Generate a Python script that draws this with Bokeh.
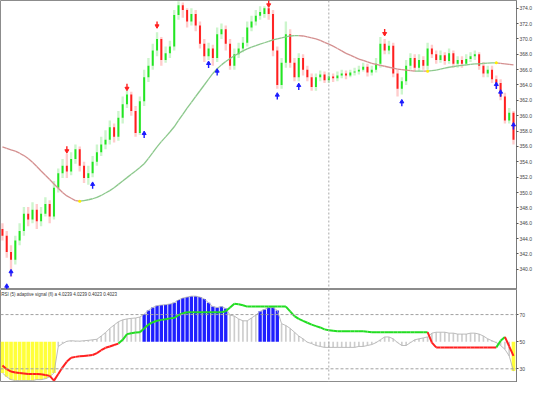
from bokeh.plotting import figure
from bokeh.models import Range1d, FixedTicker, Span, Label, NumeralTickFormatter
from bokeh.layouts import column
from bokeh.embed import file_html
from bokeh.resources import INLINE

# ---------------- data ----------------
opens = [
    345.25, 344.38, 342.25, 341.25, 343.75, 345.0, 347.25, 346.5, 347.75, 346.25,
    347.25, 348.5, 346.88, 350.62, 352.5, 353.5, 352.75, 354.38, 355.62, 353.5,
    351.88, 352.5, 354.0, 355.25, 356.25, 356.88, 358.5, 357.25, 359.75, 361.5,
    362.75, 360.62, 357.75, 361.88, 365.0, 366.5, 368.5, 370.0, 367.25, 368.12,
    369.0, 373.12, 374.38, 373.75, 372.25, 373.25, 371.75, 369.38, 367.75, 368.75,
    367.5, 370.62, 371.25, 369.38, 366.5, 368.0, 368.75, 369.5, 371.5, 372.25,
    373.0, 373.25, 374.0, 373.25, 368.5, 364.0, 366.88, 370.62, 366.88, 365.0,
    367.5, 366.0, 365.0, 363.75, 365.0, 365.38, 364.62, 365.12, 364.88, 365.25,
    365.5, 365.25, 365.62, 365.75, 366.0, 366.38, 365.62, 366.0, 366.75, 369.38,
    368.5, 369.12, 365.5, 363.5, 364.5, 366.5, 367.5, 366.25, 367.25, 366.5,
    368.75, 368.0, 367.25, 367.88, 367.12, 368.12, 366.75, 367.25, 366.75, 367.38,
    367.75, 368.0, 366.5, 365.5, 366.0, 364.75, 364.25, 362.5, 359.38, 360.38,
]
closes = [
    344.38, 342.25, 341.25, 343.75, 345.0, 347.25, 346.5, 347.75, 346.25, 347.25,
    348.5, 346.88, 350.62, 352.5, 353.5, 352.75, 354.38, 355.62, 353.5, 351.88,
    352.5, 354.0, 355.25, 356.25, 356.88, 358.5, 357.25, 359.75, 361.5, 362.75,
    360.62, 357.75, 361.88, 365.0, 366.5, 368.5, 370.0, 367.25, 368.12, 369.0,
    373.12, 374.38, 373.75, 372.25, 373.25, 371.75, 369.38, 367.75, 368.75, 367.5,
    370.62, 371.25, 369.38, 366.5, 368.0, 368.75, 369.5, 371.5, 372.25, 373.0,
    373.5, 374.0, 373.25, 368.5, 364.0, 366.88, 370.62, 366.88, 365.0, 367.5,
    366.0, 365.0, 363.75, 365.0, 365.38, 364.62, 365.12, 364.88, 365.25, 365.5,
    365.25, 365.62, 365.75, 366.0, 366.38, 365.62, 366.0, 366.75, 369.38, 368.5,
    369.12, 365.5, 363.5, 364.5, 366.5, 367.5, 366.25, 367.25, 366.5, 368.75,
    368.0, 367.25, 367.88, 367.12, 368.12, 366.75, 367.25, 366.75, 367.38, 367.75,
    368.0, 366.5, 365.5, 366.0, 364.75, 364.25, 362.5, 359.38, 360.38, 356.88,
]
highs = [
    346.0, 345.0, 343.12, 344.38, 346.0, 348.12, 348.12, 348.75, 348.5, 348.12,
    349.38, 349.0, 351.5, 353.12, 354.38, 355.0, 355.25, 356.25, 356.0, 354.0,
    353.5, 354.75, 356.25, 357.25, 358.12, 359.38, 359.0, 360.62, 362.5, 363.25,
    363.12, 361.25, 362.5, 366.0, 367.5, 369.38, 370.88, 370.25, 369.0, 369.75,
    373.75, 374.9, 374.75, 374.0, 374.0, 373.75, 372.25, 370.0, 369.5, 369.25,
    371.5, 372.0, 371.75, 370.0, 368.75, 369.5, 370.25, 372.25, 373.0, 373.75,
    374.25, 374.25, 374.25, 373.75, 369.0, 367.5, 372.25, 371.25, 367.5, 368.12,
    368.0, 366.5, 365.5, 365.5, 365.88, 365.75, 365.62, 365.5, 365.75, 366.0,
    365.88, 366.0, 366.25, 366.5, 366.88, 366.75, 366.5, 367.5, 370.25, 370.0,
    369.75, 369.5, 366.0, 365.0, 367.25, 368.12, 368.0, 368.0, 367.75, 369.5,
    369.25, 368.5, 368.5, 368.25, 368.75, 368.5, 367.75, 367.75, 368.0, 368.25,
    368.5, 368.25, 367.0, 366.5, 366.5, 365.25, 364.75, 363.0, 361.0, 360.62,
]
lows = [
    343.75, 341.5, 339.0, 340.62, 343.12, 344.38, 345.62, 346.0, 345.25, 345.62,
    346.88, 346.0, 346.5, 350.0, 351.88, 351.88, 352.25, 353.75, 352.75, 351.25,
    351.0, 352.0, 353.5, 354.75, 355.62, 356.25, 356.5, 356.75, 359.0, 361.0,
    360.0, 357.25, 357.5, 361.25, 364.38, 366.0, 367.75, 366.5, 366.88, 367.5,
    368.5, 372.5, 372.75, 371.5, 371.75, 371.0, 368.75, 367.0, 367.25, 366.5,
    367.0, 370.0, 368.5, 366.0, 366.0, 367.5, 368.25, 369.0, 371.0, 371.75,
    372.5, 372.75, 372.5, 367.75, 363.5, 363.5, 366.25, 366.25, 364.5, 364.5,
    365.25, 364.5, 363.25, 363.25, 364.5, 364.25, 364.25, 364.38, 364.5, 364.88,
    364.75, 365.0, 365.25, 365.38, 365.75, 365.12, 365.25, 365.62, 366.25, 368.0,
    368.0, 365.0, 362.5, 362.75, 364.0, 366.0, 365.75, 365.75, 366.0, 366.0,
    367.5, 366.75, 366.88, 366.62, 366.75, 366.25, 366.25, 366.25, 366.5, 367.0,
    367.25, 366.0, 365.0, 365.0, 364.25, 363.5, 362.0, 359.0, 359.0, 356.25,
]
moving_avg = [
    355.94, 355.75, 355.56, 355.38, 355.12, 354.81, 354.44, 353.94, 353.38, 352.81,
    352.25, 351.69, 351.12, 350.56, 350.0, 349.56, 349.25, 348.94, 348.88, 348.94,
    349.06, 349.19, 349.38, 349.62, 349.94, 350.25, 350.62, 351.06, 351.5, 351.94,
    352.38, 352.81, 353.25, 353.75, 354.44, 355.19, 355.94, 356.62, 357.25, 357.88,
    358.56, 359.38, 360.19, 361.0, 361.75, 362.5, 363.25, 364.0, 364.75, 365.5,
    366.12, 366.62, 367.06, 367.44, 367.81, 368.12, 368.44, 368.69, 368.94, 369.12,
    369.31, 369.5, 369.69, 369.88, 370.0, 370.12, 370.25, 370.38, 370.44, 370.44,
    370.38, 370.25, 370.12, 370.0, 369.81, 369.56, 369.31, 369.06, 368.75, 368.44,
    368.12, 367.88, 367.62, 367.38, 367.19, 367.0, 366.81, 366.69, 366.56, 366.44,
    366.31, 366.19, 366.06, 366.0, 365.94, 365.88, 365.81, 365.81, 365.81, 365.80,
    365.88, 365.94, 366.06, 366.19, 366.31, 366.38, 366.5, 366.56, 366.62, 366.69,
    366.75, 366.76, 366.81, 366.85, 366.87, 366.88, 366.81, 366.75, 366.69, 366.62,
]
up_arrow_bars = [1, 2, 21, 33, 48, 50, 64, 69, 93, 115, 116, 119]
up_arrow_prices = [337.62, 339.5, 350.88, 357.5, 366.62, 365.62, 362.5, 363.75,
                   361.62, 363.88, 362.88, 358.62]
down_arrow_bars = [15, 29, 36, 62, 89]
down_arrow_prices = [355.62, 363.75, 371.88, 374.62, 370.88]

histogram = [
    26.9, 24.1, 22.0, 21.3, 21.3, 21.3, 21.3, 21.3, 22.0, 22.0, 22.7, 24.1, 26.9,
    46.5, 48.6, 50.3, 50.7, 50.5, 50.4, 50.7, 51.0, 51.4, 51.8,
    54.2, 56.7, 59.8, 62.3, 64.7, 66.1, 66.8, 67.2, 67.5, 68.2,
    70.3, 73.1, 75.2, 76.6, 77.0, 77.3,
    77.8, 78.7, 80.8, 82.2, 82.9, 83.6, 83.6, 82.9, 81.5, 78.7,
    75.9, 75.2, 75.9, 74.5,
    69.6, 68.9, 66.8, 65.4, 65.4, 67.5, 69.6,
    72.4, 73.8, 75.2, 75.2, 73.1,
    63.3, 61.9, 59.8, 57.0, 54.2, 52.1,
    49.6, 48.6, 47.2, 46.5, 45.8,
    45.8, 45.8, 45.8, 45.8, 45.8, 45.8, 45.8,
    46.5, 46.5, 47.2, 47.9, 49.3,
    51.4, 53.5, 53.5, 52.1, 49.3, 47.2, 47.2, 49.3, 51.4, 52.1, 52.8, 53.5,
    56.3, 57.0, 57.0, 57.0, 56.3, 56.3, 55.6, 55.6, 55.6, 56.3, 56.3, 55.6,
    54.2, 52.1, 50.7, 49.3, 47.2, 44.4, 39.5, 28.3,
]
signal = [
    32.5, 29.7, 28.0, 27.3, 26.9, 26.6, 26.2, 26.2, 26.2, 25.9, 25.5, 24.8, 21.3,
    26.2, 31.1, 35.3, 38.1, 38.8, 39.2, 39.5, 39.9, 40.2, 41.6, 43.7, 45.5, 46.5, 47.6, 48.6,
    51.4, 55.6, 56.3, 56.7, 57.0, 59.8, 62.6, 64.4, 65.4, 66.1, 66.5, 67.2, 67.5,
    69.6, 71.0, 71.7, 71.7, 71.7, 71.7, 71.7, 71.7, 71.7, 71.7, 71.7, 72.4,
    75.2, 78.0, 77.6, 76.9, 75.9, 75.9, 75.9, 75.9, 75.9, 75.9, 75.9, 75.9, 75.9, 75.9,
    72.4, 68.9, 66.8, 65.4, 64.0, 62.6, 61.5, 60.5, 59.1, 58.4, 58.1, 57.7,
    57.7, 57.7, 57.7, 57.7, 57.7, 57.7,
    57.4, 57.0, 57.0, 57.0, 57.0, 57.0, 57.0, 57.0, 57.0, 57.0, 57.0, 57.0, 57.0, 57.0, 57.0,
    49.3, 45.8, 45.8, 45.8, 45.8, 45.8, 45.8, 45.8, 45.8, 45.8, 45.8, 45.8, 45.8, 45.8, 45.8, 45.8,
    50.7, 53.5, 46.5, 39.5,
]
price_ticks = [340, 342, 344, 346, 348, 350, 352, 354, 356, 358, 360, 362, 364,
               366, 368, 370, 372, 374]
osc_ticks = [30, 50, 70]
osc_levels = [30, 70]
osc_base = 50
last_price = 362.0
separator_bar = 76
indicator_title = "RSI (5) adaptive signal (fl) a 4.0239 4.0239 0.4023 0.4023"

# ---------------- styling ----------------
GREEN = "#22e622"
RED = "#ff1f1f"
GHOST_G = "#ccf5cc"
GHOST_R = "#ffcccc"
MA_UP = "#8cc88c"
MA_DN = "#d49090"
FONT = "Liberation Sans"

bars = list(range(len(closes)))
x_range = Range1d(-0.45, 119.7)


def style(p):
    p.xgrid.visible = False
    p.ygrid.visible = False
    p.outline_line_color = "#8c8c8c"
    p.outline_line_width = 1
    p.background_fill_color = "white"
    p.border_fill_color = "white"
    ax = p.yaxis[0]
    ax.axis_line_color = "#7a7a7a"
    ax.major_tick_line_color = "#555555"
    ax.major_tick_out = 2
    ax.major_tick_in = 0
    ax.minor_tick_line_color = None
    ax.major_label_text_font_size = "5px"
    ax.major_label_text_font = FONT
    ax.major_label_text_color = "#444444"
    ax.major_label_standoff = 1


# ---------------- main price panel ----------------
p1 = figure(frame_width=516, frame_height=289, x_range=x_range,
            y_range=Range1d(337.375, 375.0), output_backend="svg",
            toolbar_location=None, min_border=0, min_border_right=0,
            x_axis_location=None, y_axis_location="right")
style(p1)
p1.yaxis.ticker = FixedTicker(ticks=price_ticks)
p1.yaxis.formatter = NumeralTickFormatter(format="0.0")

is_up = [c >= o for o, c in zip(opens, closes)]
p1.vbar(x=bars, bottom=lows, top=highs, width=0.55,
        fill_color=[GHOST_G if u else GHOST_R for u in is_up], line_color=None)
p1.vbar(x=bars, bottom=[min(o, c) for o, c in zip(opens, closes)],
        top=[max(o, c) for o, c in zip(opens, closes)], width=0.45,
        fill_color=[GREEN if u else RED for u in is_up], line_color=None)

# moving average coloured by direction
ma_cols = [MA_UP if moving_avg[i + 1] >= moving_avg[i] else MA_DN for i in range(len(moving_avg) - 1)]
p1.segment(x0=bars[:-1], y0=moving_avg[:-1], x1=bars[1:], y1=moving_avg[1:],
           line_color=ma_cols, line_width=1.3)
turn = [i for i in range(1, len(moving_avg) - 1)
        if (moving_avg[i] - moving_avg[i - 1]) * (moving_avg[i + 1] - moving_avg[i]) < 0]
p1.scatter(x=turn, y=[moving_avg[i] for i in turn], size=3, color="#ffee00", line_color=None)

# arrows
BLUE = "#1a1aff"
p1.segment(x0=up_arrow_bars, y0=[v - 0.4 for v in up_arrow_prices], x1=up_arrow_bars,
           y1=[v + 0.1 for v in up_arrow_prices], line_color=BLUE, line_width=1.4)
p1.scatter(x=up_arrow_bars, y=[v + 0.2 for v in up_arrow_prices], marker="triangle",
           size=4, color=BLUE, line_color=BLUE)
p1.segment(x0=down_arrow_bars, y0=[v + 0.4 for v in down_arrow_prices], x1=down_arrow_bars,
           y1=[v - 0.1 for v in down_arrow_prices], line_color=RED, line_width=1.4)
p1.scatter(x=down_arrow_bars, y=[v - 0.2 for v in down_arrow_prices], marker="inverted_triangle",
           size=4, color=RED, line_color=RED)

p1.add_layout(Span(location=separator_bar, dimension="height", line_color="#a8a8a8",
                   line_dash="2 2", line_width=1))
p1.add_layout(Label(x=119.7, y=last_price, text=f"{last_price:.1f}", x_offset=1,
                    text_font_size="5px", text_font=FONT, text_color="white",
                    text_baseline="middle", text_align="left",
                    background_fill_color="black", border_line_color="black"))

# ---------------- indicator panel ----------------
p2 = figure(frame_width=516, frame_height=93, x_range=x_range,
            y_range=Range1d(19.9, 88.5), output_backend="svg",
            toolbar_location=None, min_border=0, min_border_right=0,
            x_axis_location=None, y_axis_location="right")
style(p2)
p2.yaxis.ticker = FixedTicker(ticks=osc_ticks)

h_cols, h_w = [], []
for v in histogram:
    if v > 70:
        h_cols.append("#1f1fff"); h_w.append(0.78)
    elif v < 30:
        h_cols.append("#ffff3a"); h_w.append(0.85)
    else:
        h_cols.append("#cdcdcd"); h_w.append(0.38)
p2.vbar(x=bars, bottom=osc_base, top=histogram, width=h_w, fill_color=h_cols, line_color=None)
p2.line(x=bars, y=histogram, line_color="#b4b4b4", line_width=0.9)

for lv in osc_levels:
    p2.add_layout(Span(location=lv, dimension="width", line_color="#a0a0a0",
                       line_dash="3 2", line_width=1))

sig_cols = ["#22dd22" if signal[i + 1] >= osc_base else "#ff2020" for i in range(len(signal) - 1)]
p2.segment(x0=bars[:-1], y0=signal[:-1], x1=bars[1:], y1=signal[1:],
           line_color=sig_cols, line_width=2)

p2.add_layout(Span(location=separator_bar, dimension="height", line_color="#a8a8a8",
                   line_dash="2 2", line_width=1))
p2.add_layout(Label(x=-0.3, y=88.5, y_offset=-2, text=indicator_title, text_font_size="4.5px",
                    text_font=FONT, text_color="#333333", text_baseline="top",
                    text_align="left"))

layout = column(p1, p2, spacing=0)
open("out.html", "w").write(file_html(layout, INLINE))
